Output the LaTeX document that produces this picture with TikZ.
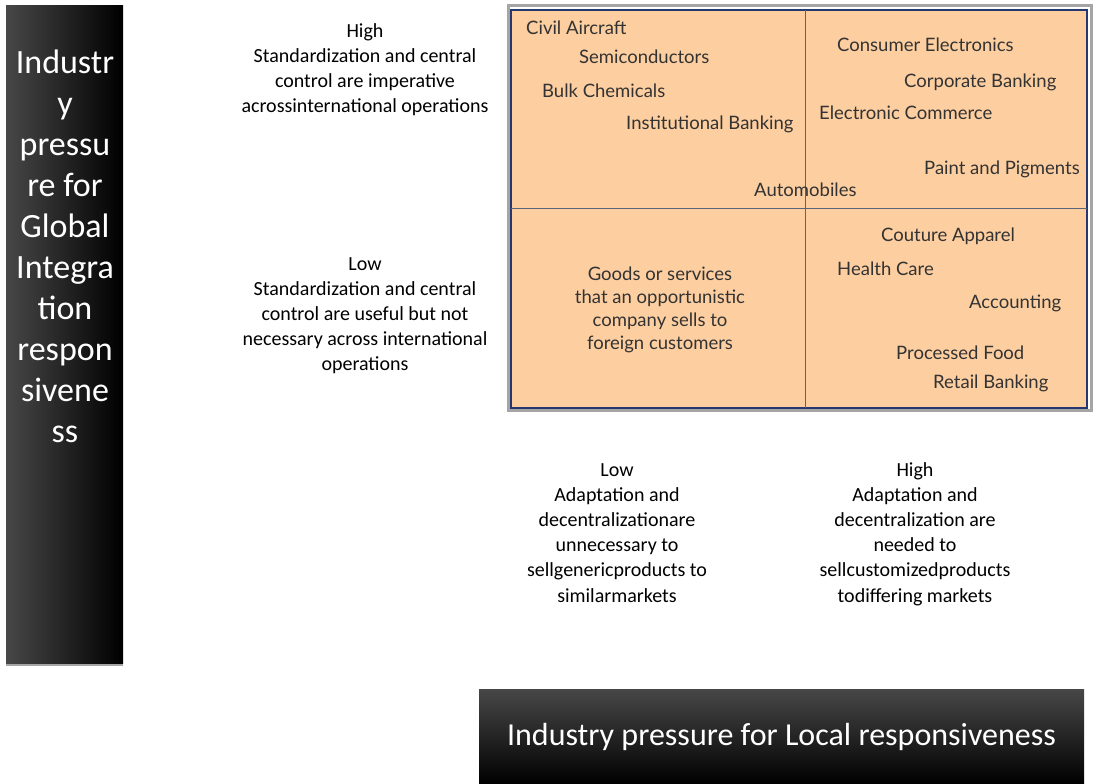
\documentclass[tikz,border=0pt]{standalone}
\usepackage{fontspec}
\setmainfont{Carlito}
\newfontfamily\chartfont{Lato}
\usetikzlibrary{positioning}

\definecolor{quadfill}{RGB}{253,206,160}
\definecolor{quadline}{RGB}{38,56,112}
\definecolor{divline}{RGB}{90,100,120}
\definecolor{framegray}{RGB}{165,165,165}

\begin{document}
\begin{tikzpicture}[x=1pt, y=-1pt,
  note/.style={align=center, inner sep=0pt, anchor=north,
    font=\fontsize{20}{25.2}\selectfont},
  item/.style={anchor=west, inner sep=0pt, text=black!80,
    font=\chartfont\fontsize{18.5}{23}\selectfont},
]
  \useasboundingbox (0,0) rectangle (1098,784);

  % Vertical axis bar (global integration)
  \fill[framegray] (6,663) rectangle (123,666);
  \shade[left color=black!72, middle color=black, right color=black] (6,6) rectangle (123,663);
  \node[align=center, inner sep=0pt, anchor=north, text=white,
        font=\fontsize{34}{41}\selectfont] (gtitle) at (65,50)
    {Industr\\y\\pressu\\re for\\Global\\Integra\\tion\\respon\\sivene\\ss};

  % Horizontal axis bar (local responsiveness)
  \shade[top color=black!72, middle color=black, bottom color=black] (479,689) rectangle (1084,784);
  \node[inner sep=0pt, text=white, font=\fontsize{32}{38}\selectfont]
    (ltitle) at (781.5,737) {Industry pressure for Local responsiveness};

  % Row labels
  \node[note] (hirow) at (365,23) {High\\Standardization and central\\control are imperative\\acrossinternational operations};
  \node[note] (lorow) at (365,257) {Low\\Standardization and central\\control are useful but not\\necessary across international\\operations};

  % Column labels
  \node[note] (locol) at (617,463) {Low\\Adaptation and\\decentralizationare\\unnecessary to\\sellgenericproducts to\\similarmarkets};
  \node[note] (hicol) at (915,462) {High\\Adaptation and\\decentralization are\\needed to\\sellcustomizedproducts\\todiffering markets};

  % The grid
  \draw[framegray, line width=3pt] (508.5,5.5) rectangle (1091.5,410.5);
  \draw[quadline, fill=quadfill, line width=1.5pt] (511,10) rectangle (1087,408);
  \draw[divline, line width=0.8pt] (805,10) -- (805,408);
  \draw[divline, line width=0.8pt] (511,208) -- (1087,208);

  % Upper left
  \node[item] (civil) at (526,28) {Civil Aircraft};
  \node[item] (semi) at (579,57) {Semiconductors};
  \node[item] (bulk) at (542,91) {Bulk Chemicals};
  \node[item] (instb) at (626,124) {Institutional Banking};
  % Upper right
  \node[item] (consel) at (837,45) {Consumer Electronics};
  \node[item] (corpb) at (904,82) {Corporate Banking};
  \node[item] (ecom) at (819,113) {Electronic Commerce};
  \node[item] (paint) at (924,169) {Paint and Pigments};
  \node[item] (auto) at (754,190) {Automobiles};
  % Lower right
  \node[item] (apparel) at (881,236) {Couture Apparel};
  \node[item] (health) at (837,269) {Health Care};
  \node[item] (acct) at (969,303) {Accounting};
  \node[item] (food) at (896,353) {Processed Food};
  \node[item] (retail) at (933,383) {Retail Banking};
  % Lower left
  \node[item, anchor=center, align=center] (goods) at (660,310)
    {Goods or services\\that an opportunistic\\company sells to\\foreign customers};
\end{tikzpicture}
\end{document}
